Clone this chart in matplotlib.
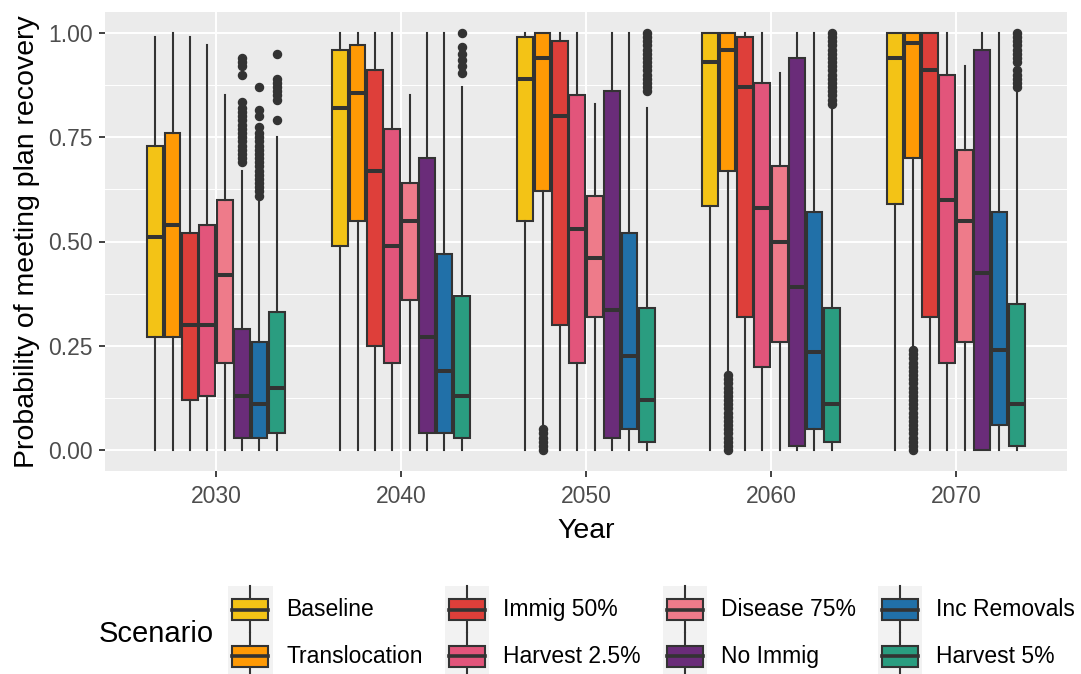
import matplotlib
matplotlib.use("Agg")
import matplotlib.pyplot as plt
from matplotlib.patches import Patch, Rectangle
from matplotlib.lines import Line2D
from matplotlib.legend_handler import HandlerBase
from matplotlib.ticker import MultipleLocator

plt.rcParams['font.family'] = ['Liberation Sans', 'DejaVu Sans']

years = [2030, 2040, 2050, 2060, 2070]
scenarios = ['Baseline', 'Translocation', 'Immig 50%', 'Harvest 2.5%',
             'Disease 75%', 'No Immig', 'Inc Removals', 'Harvest 5%']
colors = ['#F3C316', '#FF9A05', '#DE3F3A', '#E2557B',
          '#EE7B8A', '#6A2C79', '#2170A8', '#2A9D80']

# box statistics, one list per scenario, one value per year
q1 = {
    'Baseline':      [0.27, 0.49, 0.55, 0.585, 0.59],
    'Translocation': [0.27, 0.55, 0.62, 0.67, 0.70],
    'Immig 50%':     [0.12, 0.25, 0.30, 0.32, 0.32],
    'Harvest 2.5%':  [0.13, 0.21, 0.21, 0.20, 0.21],
    'Disease 75%':   [0.21, 0.36, 0.32, 0.26, 0.26],
    'No Immig':      [0.03, 0.04, 0.03, 0.01, 0.00],
    'Inc Removals':  [0.03, 0.04, 0.05, 0.05, 0.06],
    'Harvest 5%':    [0.04, 0.03, 0.02, 0.02, 0.01],
}
med = {
    'Baseline':      [0.51, 0.82, 0.89, 0.93, 0.94],
    'Translocation': [0.54, 0.855, 0.94, 0.96, 0.975],
    'Immig 50%':     [0.30, 0.67, 0.80, 0.87, 0.91],
    'Harvest 2.5%':  [0.30, 0.49, 0.53, 0.58, 0.60],
    'Disease 75%':   [0.42, 0.55, 0.46, 0.50, 0.55],
    'No Immig':      [0.13, 0.27, 0.335, 0.39, 0.425],
    'Inc Removals':  [0.11, 0.19, 0.225, 0.235, 0.24],
    'Harvest 5%':    [0.15, 0.13, 0.12, 0.11, 0.11],
}
q3 = {
    'Baseline':      [0.73, 0.96, 0.99, 1.00, 1.00],
    'Translocation': [0.76, 0.97, 1.00, 1.00, 1.00],
    'Immig 50%':     [0.52, 0.91, 0.98, 0.99, 1.00],
    'Harvest 2.5%':  [0.54, 0.77, 0.85, 0.88, 0.90],
    'Disease 75%':   [0.60, 0.64, 0.61, 0.68, 0.72],
    'No Immig':      [0.29, 0.70, 0.86, 0.94, 0.96],
    'Inc Removals':  [0.26, 0.47, 0.52, 0.57, 0.57],
    'Harvest 5%':    [0.33, 0.37, 0.34, 0.34, 0.35],
}
whis_lo = {
    'Baseline':      [0, 0, 0, 0, 0],
    'Translocation': [0, 0, 0.06, 0.19, 0.25],
    'Immig 50%':     [0, 0, 0, 0, 0],
    'Harvest 2.5%':  [0, 0, 0, 0, 0],
    'Disease 75%':   [0, 0, 0, 0, 0],
    'No Immig':      [0, 0, 0, 0, 0],
    'Inc Removals':  [0, 0, 0, 0, 0],
    'Harvest 5%':    [0, 0, 0, 0, 0],
}
whis_hi = {
    'Baseline':      [0.99, 1.00, 1.00, 1.00, 1.00],
    'Translocation': [1.00, 1.00, 1.00, 1.00, 1.00],
    'Immig 50%':     [0.99, 1.00, 1.00, 1.00, 1.00],
    'Harvest 2.5%':  [0.97, 1.00, 1.00, 1.00, 1.00],
    'Disease 75%':   [0.85, 0.85, 0.83, 0.905, 0.92],
    'No Immig':      [0.67, 1.00, 1.00, 1.00, 1.00],
    'Inc Removals':  [0.60, 1.00, 1.00, 1.00, 1.00],
    'Harvest 5%':    [0.75, 0.87, 0.82, 0.82, 0.86],
}
outliers = {
    'Baseline':      [[], [], [], [], []],
    'Translocation': [[], [],
                      [0.00, 0.01, 0.02, 0.03, 0.04, 0.05],
                      [0.00, 0.01, 0.02, 0.03, 0.04, 0.05, 0.06, 0.07, 0.08, 0.09,
                       0.10, 0.11, 0.12, 0.13, 0.14, 0.15, 0.16, 0.17, 0.18],
                      [0.00, 0.01, 0.02, 0.03, 0.04, 0.05, 0.06, 0.07, 0.08, 0.09,
                       0.10, 0.11, 0.12, 0.13, 0.14, 0.15, 0.16, 0.17, 0.18, 0.19,
                       0.20, 0.21, 0.22, 0.23, 0.24]],
    'Immig 50%':     [[], [], [], [], []],
    'Harvest 2.5%':  [[], [], [], [], []],
    'Disease 75%':   [[], [], [], [], []],
    'No Immig':      [[0.94, 0.93, 0.92, 0.90, 0.835, 0.82, 0.81, 0.80, 0.79, 0.78,
                       0.77, 0.76, 0.75, 0.74, 0.73, 0.72, 0.71, 0.70, 0.69],
                      [], [], [], []],
    'Inc Removals':  [[0.87, 0.815, 0.80, 0.775, 0.76, 0.75, 0.74, 0.73, 0.72, 0.71,
                       0.70, 0.69, 0.68, 0.67, 0.66, 0.65, 0.64, 0.63, 0.62, 0.61],
                      [], [], [], []],
    'Harvest 5%':    [[0.95, 0.89, 0.88, 0.87, 0.86, 0.85, 0.84, 0.79],
                      [1.00, 0.965, 0.95, 0.935, 0.92, 0.905],
                      [1.00, 0.99, 0.98, 0.97, 0.96, 0.95, 0.94, 0.93, 0.92, 0.91,
                       0.90, 0.89, 0.88, 0.87, 0.86],
                      [1.00, 0.99, 0.98, 0.97, 0.96, 0.95, 0.94, 0.93, 0.92, 0.91,
                       0.90, 0.89, 0.88, 0.87, 0.86, 0.85, 0.84, 0.83],
                      [1.00, 0.99, 0.98, 0.97, 0.96, 0.95, 0.94, 0.93,
                       0.91, 0.90, 0.89, 0.88, 0.87]],
}

dark = '#333333'
dodge = 0.94
box_w = 0.85

fig = plt.figure(figsize=(10.81, 6.74), dpi=100)
ax = fig.add_axes([105 / 1081, 1 - 471 / 674, (1067 - 105) / 1081, (471 - 12) / 674])
ax.set_facecolor('#EBEBEB')

for i, name in enumerate(scenarios):
    stats = []
    for j in range(len(years)):
        stats.append(dict(q1=q1[name][j], med=med[name][j], q3=q3[name][j],
                          whislo=whis_lo[name][j], whishi=whis_hi[name][j],
                          fliers=outliers[name][j]))
    pos = [y + (i - 3.5) * dodge for y in years]
    ax.bxp(stats, positions=pos, widths=box_w, patch_artist=True,
           showcaps=False, manage_ticks=False,
           boxprops=dict(facecolor=colors[i], edgecolor=dark, linewidth=1.5),
           medianprops=dict(color=dark, linewidth=2.9, solid_capstyle='butt'),
           whiskerprops=dict(color=dark, linewidth=1.5),
           flierprops=dict(marker='o', markerfacecolor=dark, markeredgecolor=dark,
                           markersize=5.8, linestyle='none'))

ax.set_xlim(2024, 2076)
ax.set_ylim(-0.05, 1.05)
ax.set_xticks(years)
ax.set_xticklabels([str(y) for y in years])
ax.set_yticks([0, 0.25, 0.5, 0.75, 1.0])
ax.set_yticklabels(['0.00', '0.25', '0.50', '0.75', '1.00'])
ax.yaxis.set_minor_locator(MultipleLocator(0.125))
ax.set_axisbelow(True)
ax.grid(which='major', color='white', linewidth=1.4)
ax.grid(which='minor', axis='y', color='white', linewidth=0.7)
for s in ax.spines.values():
    s.set_visible(False)
ax.tick_params(which='major', length=4.5, width=1.3, color=dark,
               labelcolor='#4D4D4D', labelsize=16.5)
ax.tick_params(axis='x', which='major', pad=5.5)
ax.tick_params(axis='y', which='major', pad=4.5)
ax.tick_params(which='minor', length=0)

ax.set_xlabel('Year', fontsize=20.5, labelpad=7)
ax.set_ylabel('Probability of meeting plan recovery', fontsize=20.5, labelpad=6)


class BoxKey(HandlerBase):
    def create_artists(self, legend, orig_handle, xdescent, ydescent,
                       width, height, fontsize, trans):
        x0, y0 = -xdescent, -ydescent
        fc = orig_handle.get_facecolor()
        bg = Rectangle((x0, y0), width, height, facecolor='#F2F2F2',
                       edgecolor='none', transform=trans)
        bx = Rectangle((x0 + 0.1 * width, y0 + 0.27 * height), 0.8 * width,
                       0.46 * height, facecolor=fc, edgecolor=dark,
                       linewidth=1.5, transform=trans)
        cx = x0 + width / 2
        cy = y0 + height / 2
        md = Line2D([x0 + 0.1 * width, x0 + 0.9 * width], [cy, cy],
                    color=dark, linewidth=2.6, transform=trans)
        w1 = Line2D([cx, cx], [y0 + 0.73 * height, y0 + height],
                    color=dark, linewidth=1.5, transform=trans)
        w2 = Line2D([cx, cx], [y0, y0 + 0.27 * height],
                    color=dark, linewidth=1.5, transform=trans)
        return [bg, w1, w2, bx, md]


handles = [Patch(facecolor=c) for c in colors]
fig.legend(handles, scenarios, ncol=4, loc='center left',
           bbox_to_anchor=(228 / 1081, 1 - 633 / 674), frameon=False,
           fontsize=16.5, handlelength=1.95, handleheight=2.76,
           labelspacing=0, handletextpad=0.6, columnspacing=0.95,
           borderpad=0, borderaxespad=0, handler_map={Patch: BoxKey()})
fig.text(156 / 1081, 1 - 634 / 674, 'Scenario', fontsize=21,
         ha='center', va='center')

fig.savefig('out.png', dpi=100)
